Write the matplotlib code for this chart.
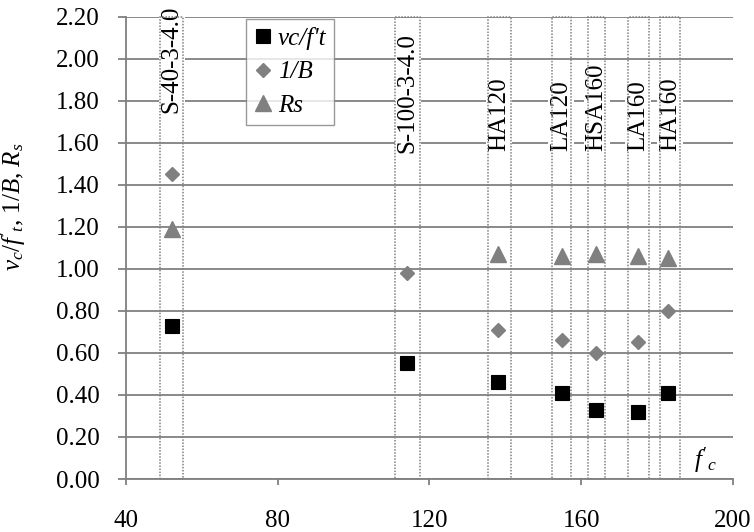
import numpy as np
import matplotlib
matplotlib.use('Agg')
from matplotlib import pyplot as plt
from matplotlib.patches import Rectangle
from matplotlib.lines import Line2D

plt.rcParams["font.family"] = "Liberation Serif"
matplotlib.rcParams['mathtext.fontset'] = 'custom'
matplotlib.rcParams['mathtext.rm'] = 'Liberation Serif'
matplotlib.rcParams['mathtext.it'] = 'Liberation Serif:italic'
matplotlib.rcParams['mathtext.bf'] = 'Liberation Serif:bold'

# data
specimens = ["S-40-3-4.0", "S-100-3-4.0", "HA120", "LA120", "HSA160", "LA160", "HA160"]
fc = [52, 114, 138, 155, 164, 175, 183]
vc_ft = [0.73, 0.55, 0.46, 0.41, 0.33, 0.32, 0.41]
inv_b = [1.45, 0.98, 0.71, 0.66, 0.60, 0.65, 0.80]
rs = [1.19, np.nan, 1.07, 1.06, 1.07, 1.06, 1.05]
box_left = [49, 111, 135.5, 152.2, 161.7, 172.3, 180.7]
box_right = [55, 117.6, 141.4, 157.3, 166.4, 177.8, 186]
label_bottom = [1.74, 1.55, 1.56, 1.56, 1.56, 1.56, 1.56]

grey = '#808080'
fs = 18

fig = plt.figure(figsize=[7.54, 5.32], dpi=100)
ax = fig.add_axes([0.1671, 0.0996, 0.805, 0.869])

ax.set_xlim(40, 200)
ax.set_ylim(0, 2.2)
ax.set_xticks(np.arange(40, 201, 40))
ax.set_yticks(np.arange(0, 2.21, 0.2))
ax.set_yticklabels([f'{v:.2f}' for v in np.arange(0, 2.21, 0.2)])
ax.yaxis.grid(True, color=grey, linewidth=1.3, zorder=0)
ax.set_axisbelow(True)

for side in ['top', 'right']:
    ax.spines[side].set_visible(False)
for side in ['left', 'bottom']:
    ax.spines[side].set_color(grey)
    ax.spines[side].set_linewidth(1.3)
ax.tick_params(axis='y', direction='out', length=6, width=1.3, color=grey, pad=13, labelsize=fs)
ax.tick_params(axis='x', direction='out', length=4.5, width=1.3, color=grey, pad=18, labelsize=fs)

for lab, l, r, yb in zip(specimens, box_left, box_right, label_bottom):
    ax.add_patch(Rectangle((l, 0), r - l, 2.2, fill=False, edgecolor=grey,
                           linestyle=(0, (1, 1)), linewidth=1.1, zorder=4, clip_on=False))
    ax.text((l + r) / 2, yb, lab, rotation=90, ha='center', va='bottom', fontsize=fs,
            zorder=3, bbox=dict(facecolor='white', edgecolor='none', pad=1.5))

ax.plot(fc, vc_ft, linestyle='none', marker='s', ms=9.5, color='black', mec='black', mew=0.8, zorder=5)
ax.plot(fc, inv_b, linestyle='none', marker='D', ms=7.3, color=grey, mec=grey, zorder=5)
ax.plot(fc, rs, linestyle='none', marker='^', ms=11, color=grey, mec=grey, zorder=5)

handles = [
    Line2D([], [], linestyle='none', marker='s', ms=9.5, color='black', mew=0.8),
    Line2D([], [], linestyle='none', marker='D', ms=7.3, color=grey),
    Line2D([], [], linestyle='none', marker='^', ms=11, color=grey),
]
leg = ax.legend(handles, ["vc/f't", "1/B", "Rs"], loc='upper left', bbox_to_anchor=(0.197, 0.995),
                prop={'size': fs, 'style': 'italic'}, frameon=True, fancybox=False,
                handlelength=0.8, handletextpad=0.2, borderpad=0.3, labelspacing=0.45,
                borderaxespad=0)
leg.get_frame().set_edgecolor(grey)
leg.get_frame().set_linewidth(1.0)
leg.set_zorder(6)

ax.set_ylabel(r"$v_c/f'_t$, $1/B$, $R_s$", fontsize=fs)
ax.yaxis.set_label_coords(-0.161, 0.59)
ax.text(192.8, 0.09, r"$f'_c$", fontsize=fs, ha='center', va='center')

fig.patch.set_facecolor('white')
fig.savefig('out.png', dpi=100)
